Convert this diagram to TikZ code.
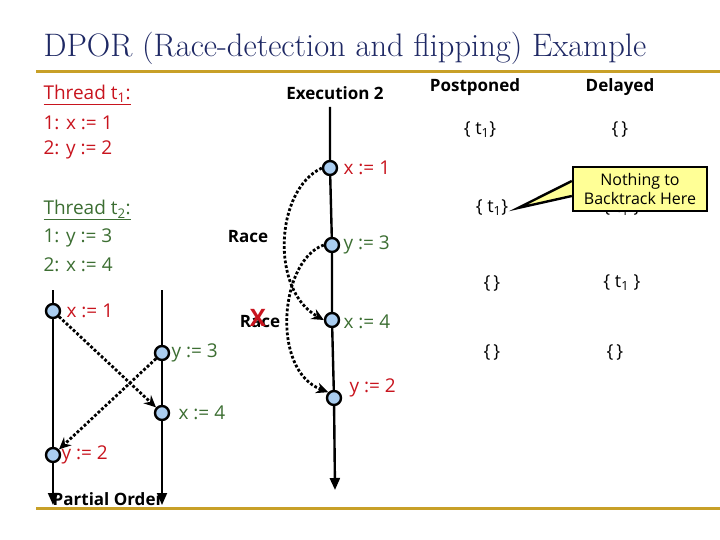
\documentclass[tikz,border=0pt]{standalone}
\usepackage{fontspec}
\setsansfont{Open Sans}
\usetikzlibrary{arrows.meta}
\definecolor{gold}{RGB}{200,160,40}
\definecolor{navy}{RGB}{30,40,100}
\definecolor{tred}{RGB}{200,20,30}
\definecolor{tgreen}{RGB}{60,110,50}
\definecolor{nblue}{RGB}{170,205,240}
\definecolor{note}{RGB}{255,255,150}
\begin{document}
\begin{tikzpicture}[x=1pt,y=-1pt,
  ev/.style={circle,draw=black,line width=2.4pt,fill=nblue,minimum size=14pt,inner sep=0pt},
  lab/.style={font=\sffamily\fontsize{19}{21}\selectfont,anchor=west},
  bl/.style={font=\sffamily\bfseries\fontsize{17}{19}\selectfont},
  tl/.style={line width=2.4pt,-{Triangle[width=10pt,length=12pt]}},
  dot/.style={line width=2.8pt,dotted,-{Stealth[width=11pt,length=12pt]}},
  cell/.style={font=\sffamily\fontsize{18}{20}\selectfont}]
\useasboundingbox (0,0) rectangle (720,540);
\node[anchor=base west,font=\fontsize{32.5}{35}\selectfont,text=navy] (title) at (40,57) {DPOR (Race-detection and flipping) Example};
\draw[gold,line width=3pt] (36,72) -- (720,72);
\draw[gold,line width=3pt] (36,508) -- (720,508);
% threads
\begin{scope}[every node/.style={anchor=west,font=\sffamily\fontsize{19}{21}\selectfont}]
\node[text=tred] (t1) at (40,95) {\underline{Thread t\textsubscript{1}:}};
\node[text=tred] (t1a) at (40,123) {1: x := 1};
\node[text=tred] (t1b) at (40,150) {2: y := 2};
\node[text=tgreen] (t2) at (40,210) {\underline{Thread t\textsubscript{2}:}};
\node[text=tgreen] (t2a) at (40,238) {1: y := 3};
\node[text=tgreen] (t2b) at (40,265) {2: x := 4};
\end{scope}
% execution 2
\node[bl] (ex) at (335,93) {Execution 2};
\coordinate (etop) at (330,107);
\coordinate (ebot) at (335,490);
\node[ev] (e1) at (330,168) {};
\node[ev] (e2) at (332,245) {};
\node[ev] (e3) at (332,320) {};
\node[ev] (e4) at (334,398) {};
\draw[tl] (etop) -- (e1) -- (e2) -- (e3) -- (e4) -- (ebot);
\node[lab,text=tred] at (340,168) {x := 1};
\node[lab,text=tgreen] at (340,245) {y := 3};
\node[lab,text=tgreen] at (340,322) {x := 4};
\node[lab,text=tred] at (346,388) {y := 2};
\draw[dot] (e1.west) .. controls (275,190) and (270,290) .. (e3.west);
\draw[dot] (e2.west) .. controls (280,260) and (270,370) .. (e4.north west);
\node[bl] (r1) at (248,237) {Race};
\node[bl] (r2) at (260,322) {Race};
\node[text=tred,font=\sffamily\bfseries\fontsize{24}{24}\selectfont] at (258,318) {X};
% partial order
\coordinate (lt) at (53,290); \coordinate (lb) at (53,505);
\coordinate (rt) at (162,290); \coordinate (rb) at (162,505);
\node[ev] (p1) at (53,311) {};
\node[ev] (p2) at (162,353) {};
\node[ev] (p3) at (162,413) {};
\node[ev] (p4) at (53,455) {};
\draw[tl,line width=1.8pt] (lt) -- (p1) -- (p4) -- (lb);
\draw[tl,line width=1.8pt] (rt) -- (p2) -- (p3) -- (rb);
\node[lab,text=tred] at (63,311) {x := 1};
\node[lab,text=tgreen] at (168,353) {y := 3};
\node[lab,text=tgreen] at (175,413) {x := 4};
\node[lab,text=tred] at (58,455) {y := 2};
\draw[dot] (p1) -- (p3);
\draw[dot] (p2) -- (p4);
\node[bl,inner sep=0pt] (po) at (108,499) {Partial Order};
% table
\node[bl] (hp) at (475,87) {Postponed};
\node[bl] (hd) at (620,87) {Delayed};
\node[cell] (a1) at (480,130) {\{ t\textsubscript{1}\}};
\node[cell] (b1) at (620,130) {\{\,\}};
\node[cell] (a2) at (492,208) {\{ t\textsubscript{1}\}};
\node[cell] (b2) at (622,208) {\{ t\textsubscript{1} \}};
\node[cell] (a3) at (492,283) {\{\,\}};
\node[cell] (b3) at (622,283) {\{ t\textsubscript{1} \}};
\node[cell] (a4) at (492,352) {\{\,\}};
\node[cell] (b4) at (615,352) {\{\,\}};
% callout
\node[draw=black,line width=2.4pt,fill=note,font=\sffamily\fontsize{16}{20}\selectfont,align=center,inner sep=1pt,minimum width=134pt,minimum height=44pt] (cb) at (640,189) {Nothing to\\Backtrack Here};
\coordinate (tip) at (518,208);
\draw[line width=2.4pt,fill=note] (cb.west |- 0,181) -- (tip) -- (cb.west |- 0,196);
\end{tikzpicture}
\end{document}
